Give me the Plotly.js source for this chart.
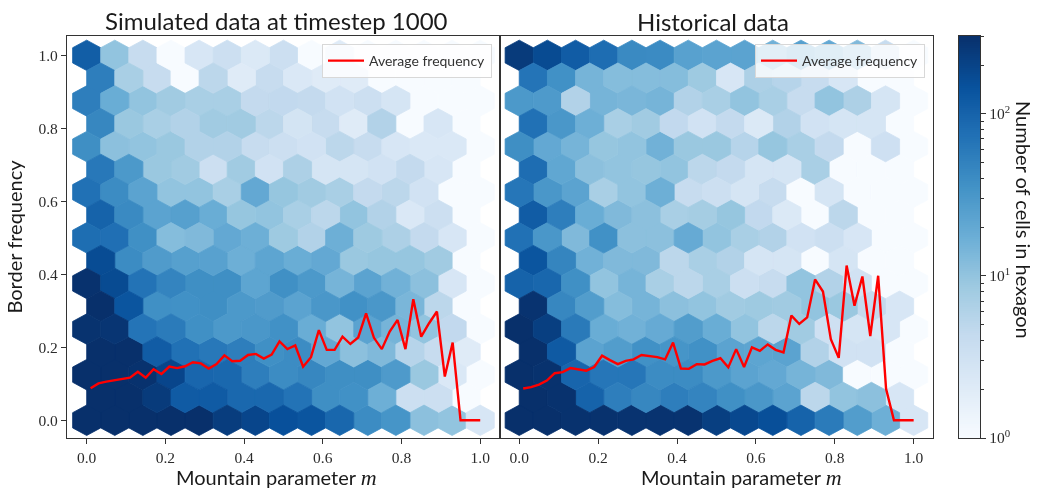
<!DOCTYPE html>
<html>
<head>
<meta charset="utf-8">
<script src="https://cdn.plot.ly/plotly-3.0.1.min.js"></script>
<style>html,body{margin:0;padding:0;background:#fff}#chart{width:1038px;height:490px;filter:blur(0.45px)}</style>
</head>
<body>
<div id="chart"></div>
<script>
// Hexagon counts, top row (y = 1.0) to bottom row (y = 0); even rows hold 15 cells, odd rows 14 (offset).
const simCounts = [
 [110,10,4,1,2.5,3.5,2.2,3.5,1,2,1,1,1,1,1],
 [55,7,4,1,5,2,4,2.3,2,2,1,1,1,1],
 [55,18,10,8,7,7,4.3,4.5,4.3,3,3.5,2.7,1,1,1],
 [45,9,7,6,8,8,5,2.8,4,2,6,1,2.5,1],
 [38,11,10,9,6,6,4,3.5,3,5,4,2.5,2.3,2.3,1],
 [62,30,9,8,3.5,8,3,6.5,2.7,2.7,3,4.3,2.5,1],
 [72,40,23,10,10,7,20,9.5,8,7,4.3,5,3,1,1],
 [100,42,23,25,18,9.5,10,7,5,10,6,2.3,3.5,1],
 [78,75,37,12,13,20,17,8.5,6,17,8.5,6.5,4.3,2.5,1],
 [165,40,28,25,24,17,22,18,20,9,9.5,9.5,8,1],
 [290,170,70,48,38,38,22,37,30,15,23,16,11,2.5,1],
 [300,135,37,36,38,30,28,23,31,36,31,14,5,1],
 [285,270,68,58,37,30,31,36,18,10,23,15,10,4.5,1],
 [300,300,115,72,62,55,37,40,20,11,13,5.5,4,2],
 [300,300,290,190,92,88,55,40,45,38,38,29,9,2.3,1],
 [300,300,240,118,118,88,88,70,38,36,17,3.5,3.5,1],
 [300,300,300,300,300,230,190,150,135,90,40,33,11,10,2.5]
];
const histCounts = [
 [240,170,115,80,42,41,24,23,23,16,25,20,13,4,1],
 [68,36,15,12,12,12,8.5,2.5,6.5,5.5,4,2.5,1,1],
 [30,29,6,15,14,15,6,7,10,7,4,10,6.5,2.7,1],
 [72,31,17,7,8,4.5,3,4.3,2.2,6,3,2.7,2.7,1],
 [38,20,15,9.5,10,16,9,9,5.5,9.5,7,4.3,1,3.3,1],
 [80,21,11,10,9.5,10,5,4.3,2.7,2.7,7,1,1,1],
 [65,31,23,7,10,17,4,3.5,2.7,4,1,2.7,1,1,1],
 [115,55,18,13,11,7,7.5,9.5,4.5,2.2,1,5,1,1],
 [72,31,13,36,11,11,19,10,7,6,3,3.5,2.5,1,1],
 [135,47,16,13,13,5,7,6,2.7,2.7,1,2.7,1,1],
 [100,90,37,10,15,7,5,7,3.5,4,10,6,3,1,1],
 [280,45,27,12,15,11,10,8,8.5,8,10,9,4.3,2.5],
 [300,220,60,18,16,19,27,18,10,5,8,3.3,2.7,2.5,1],
 [300,120,23,27,36,33,36,23,22,23,6,3,3,1],
 [300,290,95,65,65,40,40,30,23,20,15,13,1,1,1],
 [300,290,100,55,45,55,48,37,31,23,5,10,11,2.5],
 [300,300,290,290,280,280,280,220,180,155,100,58,27,17,2.5]
];
const freqX = [0.01,0.03,0.05,0.07,0.09,0.11,0.13,0.15,0.17,0.19,0.21,0.23,0.25,0.27,0.29,0.31,0.33,0.35,0.37,0.39,0.41,0.43,0.45,0.47,0.49,0.51,0.53,0.55,0.57,0.59,0.61,0.63,0.65,0.67,0.69,0.71,0.73,0.75,0.77,0.79,0.81,0.83,0.85,0.87,0.89,0.91,0.93,0.95,0.97,1.0];
const simFreq = [.088,.101,.106,.110,.112,.117,.133,.117,.140,.127,.147,.143,.148,.159,.156,.142,.154,.178,.162,.163,.179,.182,.169,.180,.216,.195,.205,.147,.173,.247,.193,.193,.229,.209,.227,.293,.226,.195,.243,.275,.195,.332,.229,.266,.298,.120,.213,0,0,0];
const histFreq = [.087,.091,.098,.109,.129,.132,.143,.139,.136,.146,.177,.165,.154,.163,.167,.179,.176,.173,.167,.213,.142,.141,.154,.153,.163,.170,.145,.195,.146,.200,.190,.208,.193,.186,.287,.264,.282,.386,.353,.222,.171,.424,.314,.394,.231,.396,.086,0,0,0];
const blues = ['#f7fbff','#deebf7','#c6dbef','#9ecae1','#6baed6','#4292c6','#2171b5','#08519c','#08306b'];
const countMax = 302;
const cbTickVals = [1,10,100];
const cbTickText = ['10<sup>0</sup>','10<sup>1</sup>','10<sup>2</sup>'];
const cbMinor = [2,3,4,5,6,7,8,9,20,30,40,50,60,70,80,90,200,300];
const axisTicks = [0,0.2,0.4,0.6,0.8,1.0];

const W = 1038, H = 490;
const INK = '#2b2b2b', SPINE = '#333333';
const SERIF = '"Liberation Serif", serif', SANS = 'Lato, sans-serif';
const dx = 1/14, dy = 1/16;

function hex2rgb(h){return [1,3,5].map(i=>parseInt(h.substr(i,2),16));}
function colorOf(c){
  const t = Math.log10(c)/Math.log10(countMax)*(blues.length-1);
  const i = Math.min(Math.floor(t), blues.length-2), f = t-i;
  const a = hex2rgb(blues[i]), b = hex2rgb(blues[i+1]);
  return 'rgb('+a.map((v,k)=>Math.round(v+(b[k]-v)*f)).join(',')+')';
}
function hexTraces(rows, xa, ya){
  const groups = new Map();
  rows.forEach((row, r)=>{
    const cy = 1 - r*dy, off = r%2 ? dx/2 : 0;
    row.forEach((c, i)=>{
      const cx = off + i*dx;
      if(!groups.has(c)) groups.set(c,{x:[],y:[]});
      const g = groups.get(c);
      g.x.push(cx, cx+dx/2, cx+dx/2, cx, cx-dx/2, cx-dx/2, cx, null);
      g.y.push(cy+dy*2/3, cy+dy/3, cy-dy/3, cy-dy*2/3, cy-dy/3, cy+dy/3, cy+dy*2/3, null);
    });
  });
  return [...groups.entries()].map(([c,g])=>({
    type:'scatter', mode:'lines', x:g.x, y:g.y, xaxis:xa, yaxis:ya,
    fill:'toself', fillcolor:colorOf(c), line:{color:colorOf(c), width:0.8},
    showlegend:false, hoverinfo:'skip', connectgaps:false
  }));
}
const gradEdges = [], gradZ = [];
for(let k=0;k<=200;k++){gradEdges.push(Math.pow(countMax,k/200));}
for(let k=0;k<200;k++){gradZ.push([(k+0.5)/200]);}

const traces = [
  ...hexTraces(simCounts,'x','y'),
  ...hexTraces(histCounts,'x2','y2'),
  {type:'scatter',mode:'lines',x:freqX,y:simFreq,xaxis:'x',yaxis:'y',name:'Average frequency',
   line:{color:'#ff0000',width:2.4},legend:'legend',showlegend:true},
  {type:'scatter',mode:'lines',x:freqX,y:histFreq,xaxis:'x2',yaxis:'y2',name:'Average frequency',
   line:{color:'#ff0000',width:2.4},legend:'legend2',showlegend:true},
  {type:'heatmap',x:[0,1],y:gradEdges,z:gradZ,xaxis:'x3',yaxis:'y3',zmin:0,zmax:1,showscale:false,hoverinfo:'skip',
   colorscale:blues.map((c,i)=>[i/(blues.length-1),c])}
];
const px = v=>v/W, py = v=>1-v/H;
const baseX = {range:[-0.05,1.049],tickmode:'array',tickvals:axisTicks,ticktext:axisTicks.map(v=>v.toFixed(1)),
  ticks:'outside',ticklen:5,tickwidth:1,tickcolor:SPINE,showline:true,linecolor:SPINE,linewidth:1.2,mirror:true,
  showgrid:false,zeroline:false,tickfont:{family:SERIF,size:15.5,color:INK}};
const baseY = {range:[-0.0485,1.053],showline:true,linecolor:SPINE,linewidth:1.2,mirror:true,showgrid:false,zeroline:false};
function label(text,x,y,size,extra){
  return Object.assign({text,xref:'paper',yref:'paper',x:px(x),y:py(y),xanchor:'center',yanchor:'middle',showarrow:false,
    font:{family:SANS,size,color:'#1a1a1a'}},extra||{});
}
const M = '<span style="font-family:\'Liberation Serif\';font-size:22px"><i>m</i></span>';
const legendBase = {xanchor:'left',yanchor:'top',bgcolor:'rgba(255,255,255,0.8)',bordercolor:'#d8d8d8',borderwidth:1,
    font:{family:SANS,size:14,color:'#333'},itemwidth:36,tracegroupgap:0,entrywidthmode:'pixels',entrywidth:118};
const layout = {
  width:W,height:H,margin:{l:0,r:0,t:0,b:0},paper_bgcolor:'#fff',plot_bgcolor:'#fff',
  xaxis:Object.assign({},baseX,{domain:[px(67),px(499.5)],anchor:'y'}),
  yaxis:Object.assign({},baseY,{domain:[py(438),py(36)],anchor:'x',tickmode:'array',tickvals:axisTicks,
    ticktext:axisTicks.map(v=>v.toFixed(1)),ticks:'outside',ticklen:5,tickwidth:1,tickcolor:SPINE,
    tickfont:{family:SERIF,size:15.5,color:INK},
    title:{text:'Border frequency',font:{family:SANS,size:20,color:'#1a1a1a'},standoff:10}}),
  xaxis2:Object.assign({},baseX,{domain:[px(499.5),px(933)],anchor:'y2'}),
  yaxis2:Object.assign({},baseY,{domain:[py(438),py(36)],anchor:'x2',tickmode:'array',tickvals:[],showticklabels:false,ticks:''}),
  xaxis3:{domain:[px(959),px(980)],anchor:'y3',range:[0,1],tickmode:'array',tickvals:[],showticklabels:false,ticks:'',showline:true,
    linecolor:SPINE,linewidth:1.2,mirror:true,showgrid:false,zeroline:false},
  yaxis3:{domain:[py(438),py(36)],anchor:'x3',type:'log',range:[0,Math.log10(countMax)],side:'right',
    tickmode:'array',tickvals:cbTickVals,ticktext:cbTickText,ticks:'outside',ticklen:5,tickwidth:1,tickcolor:SPINE,
    tickfont:{family:SERIF,size:15.5,color:INK},showline:true,linecolor:SPINE,linewidth:1.2,mirror:true,showgrid:false,zeroline:false,
    minor:{ticks:'outside',ticklen:3,tickwidth:0.8,tickcolor:SPINE,tickmode:'array',tickvals:cbMinor,showgrid:false}},
  legend:Object.assign({},legendBase,{x:px(322),y:py(44)}),
  legend2:Object.assign({},legendBase,{x:px(755),y:py(44)}),
  annotations:[
    label('Simulated data at timestep 1000',276,21,24),
    label('Historical data',713,22,24),
    label('Mountain parameter '+M,276,477,20),
    label('Mountain parameter '+M,741,477,20),
    label('Number of cells in hexagon',1024,220,20,{textangle:90})
  ]
};
Plotly.newPlot('chart',traces,layout,{displayModeBar:false});
</script>
</body>
</html>
